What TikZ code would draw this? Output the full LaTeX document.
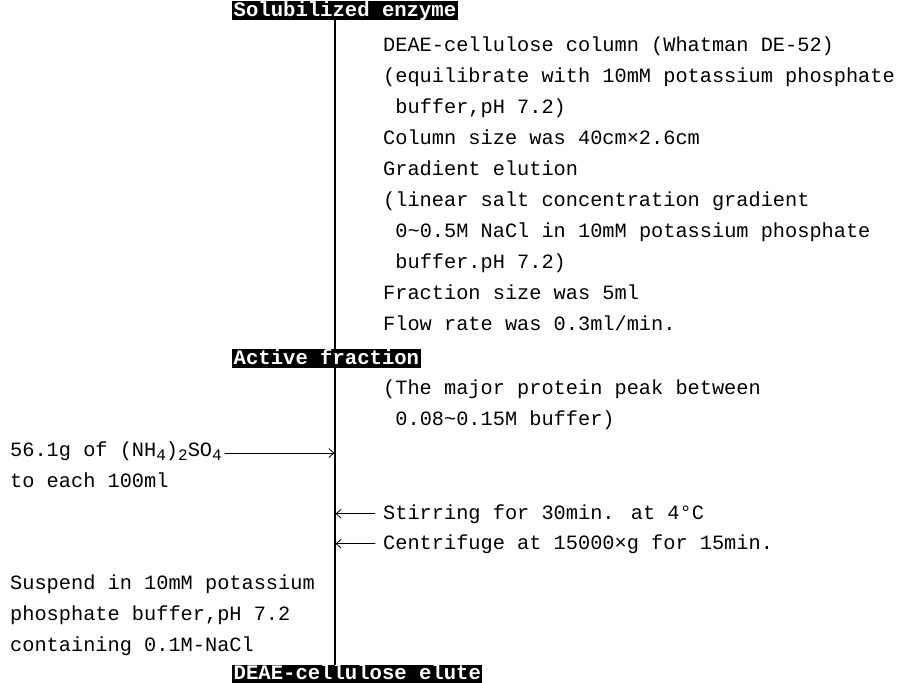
\documentclass[tikz,border=0pt]{standalone}
\usepackage{fontspec}
\setmainfont{Liberation Mono}
\usetikzlibrary{arrows.meta}
\newcommand{\lowr}[1]{\raisebox{-0.45ex}{\fontsize{16}{16}\selectfont #1}}
\begin{document}
\begin{tikzpicture}[x=1pt,y=-1pt,>={Straight Barb[length=5pt,width=9pt]}, font=\fontsize{20.3}{24}\selectfont, line join=round, line cap=round,
	hdr/.style={fill=black,text=white,font=\fontsize{20.6}{24}\selectfont\bfseries,inner xsep=1.5pt,inner ysep=0pt,text height=15pt,text depth=3.5pt,anchor=north west},
	txt/.style={anchor=base west,inner sep=0pt},
	feed/.style={->,line width=0.8pt,shorten >=0.6pt}]
	\useasboundingbox (0,0) rectangle (911,683);
	\def\tx{383} \def\ti{395.2} \def\lx{10} % lề trái các cột chữ
	\coordinate (trunk) at (335,0);
	% các tiêu đề
	\node[hdr] (sol) at (232,1) {Solubilized enzyme};
	\node[hdr] (act) at (232,349) {Active fraction};
	\node[hdr] (elute) at (232,664.5) {DEAE-cellulose elute};
	\draw[line width=1.1pt] (sol.south -| trunk) -- (act.north -| trunk);
	\draw[line width=1.1pt] (act.south -| trunk) -- (elute.north -| trunk);
	% cột phải
	\node[txt] (col1) at (\tx,51) {DEAE-cellulose column (Whatman DE-52)};
	\node[txt] (col2) at (\tx,82) {(equilibrate with 10mM potassium phosphate};
	\node[txt] (col3) at (\ti,113) {buffer,pH 7.2)};
	\node[txt] (col4) at (\tx,144) {Column size was 40cm×2.6cm};
	\node[txt] (col5) at (\tx,175) {Gradient elution};
	\node[txt] (col6) at (\tx,206) {(linear salt concentration gradient};
	\node[txt] (col7) at (\ti,237) {0\textasciitilde0.5M NaCl in 10mM potassium phosphate};
	\node[txt] (col8) at (\ti,268) {buffer.pH 7.2)};
	\node[txt] (col9) at (\tx,299) {Fraction size was 5ml};
	\node[txt] (col10) at (\tx,330) {Flow rate was 0.3ml/min.};
	\node[txt] (peak1) at (\tx,394) {(The major protein peak between};
	\node[txt] (peak2) at (\ti,425) {0.08\textasciitilde0.15M buffer)};
	% muối amoni sunfat
	\node[txt] (amm1) at (\lx,456) {56.1g of (NH\lowr{4})\lowr{2}SO\lowr{4}};
	\node[txt] (amm2) at (\lx,487) {to each 100ml};
	\draw[feed] ([xshift=3pt,yshift=-2pt]amm1.east) -- ([yshift=-2pt]amm1.east -| trunk);
	\node[txt] (stir) at (\tx,519) {Stirring for 30min. at 4°C};
	\node[txt] (cent) at (\tx,549) {Centrifuge at 15000×g for 15min.};
	\draw[feed] ([xshift=-8pt]stir.west) -- (stir.west -| trunk);
	\draw[feed] ([xshift=-8pt]cent.west) -- (cent.west -| trunk);
	% đệm hòa tan
	\node[txt] (susp1) at (\lx,589) {Suspend in 10mM potassium};
	\node[txt] (susp2) at (\lx,620) {phosphate buffer,pH 7.2};
	\node[txt] (susp3) at (\lx,651) {containing 0.1M-NaCl};
\end{tikzpicture}
\end{document}
